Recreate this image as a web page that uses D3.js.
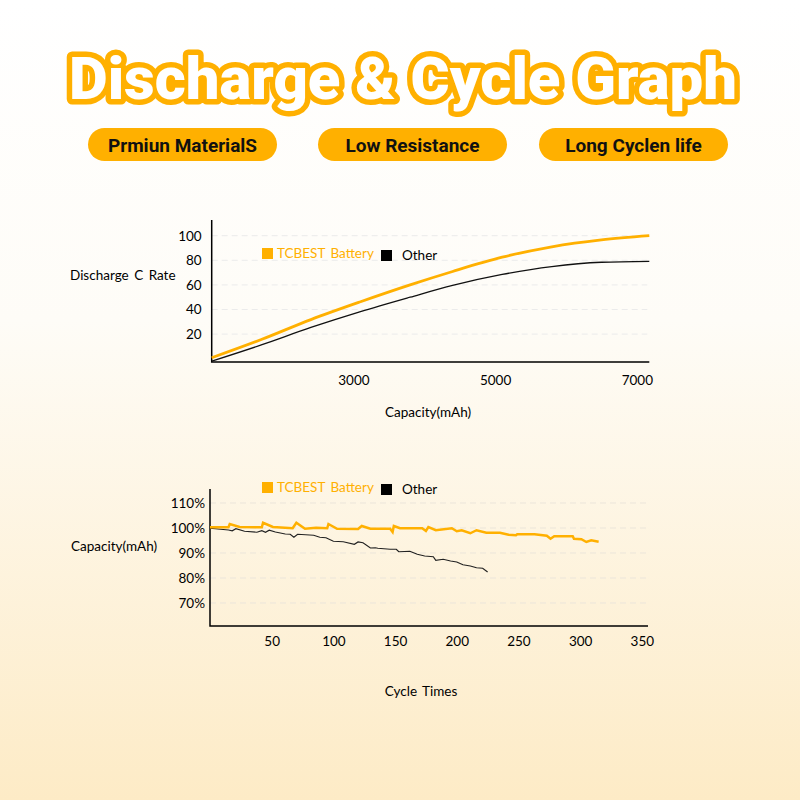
<!DOCTYPE html>
<html lang="en">
<head>
<meta charset="UTF-8">
<title>Discharge & Cycle Graph</title>
<style>
  body { margin: 0; }
  svg { display: block; }
</style>
</head>
<body>
<div id="stage"></div>
<script src="https://d3js.org/d3.v7.min.js"></script>
<script>
// ---- data ----
const features = ["Prmiun MaterialS", "Low Resistance", "Long Cyclen life"];
const seriesNames = ["TCBEST Battery", "Other"];

// discharge chart
const dischargeCap = [1000, 1700, 2400, 3100, 3800, 4400, 5100, 5800, 6500, 7176];
const tcbestRate = [0.8, 15.6, 31.8, 46.3, 60.0, 70.9, 82.5, 91.0, 96.6, 100];
const otherRate = [-2, 11.2, 25.4, 38.3, 50.0, 59.6, 68.5, 74.9, 78.4, 79.2];
const rateTicks = [20, 40, 60, 80, 100];
const capTicks = [3000, 5000, 7000];

// cycle chart
const tcbestCycles = [0, 15, 16, 24, 42, 43, 51, 67, 70, 77, 86, 95, 96, 103, 120, 123, 130, 146, 148, 149,
  154, 172, 175, 177, 183, 196, 200, 204, 211, 216, 224, 235, 242, 248, 249, 263, 273, 276, 279, 294,
  295, 301, 305, 309, 315];
const tcbestCapacity = [100.3, 100.3, 101.6, 100.4, 100.3, 102.1, 100.4, 99.9, 102.1, 99.7, 100.1, 99.9, 101.6, 99.7, 99.6, 100.8, 99.7, 99.7, 98.4, 100.8,
  99.9, 99.9, 98.8, 100.4, 99.1, 99.9, 98.7, 99.1, 97.9, 99.1, 98.1, 98.1, 97.3, 97.1, 97.5, 97.5, 96.9, 95.7, 96.7, 96.7,
  95.7, 95.5, 94.4, 95.1, 94.5];
const otherCycles = [0, 15, 18, 21, 28, 38, 42, 45, 48, 53, 61, 65, 68, 71, 84, 89, 94, 100, 108, 117,
  120, 124, 130, 134, 136, 146, 151, 153, 162, 168, 174, 181, 183, 189, 195, 200, 205, 211, 216, 221, 225];
const otherCapacity = [99.9, 99.2, 98.9, 99.7, 98.7, 98.3, 98.9, 98.3, 99.1, 98.4, 97.6, 97.5, 96.3, 97.5, 97.1, 96.3, 96.1, 94.7, 94.5, 93.5,
  94.4, 94.1, 92.0, 92.1, 91.9, 91.5, 91.5, 90.5, 90.7, 89.5, 88.8, 88.5, 87.1, 87.5, 86.8, 86.4, 85.3, 84.8, 84.1, 83.9, 82.4];
const pctTicks = [70, 80, 90, 100, 110];
const cycleTicks = [50, 100, 150, 200, 250, 300, 350];

const ORANGE = "#ffb000";
const FONT = "Lato, 'Open Sans', sans-serif";

const svg = d3.select("#stage").append("svg")
  .attr("width", 800).attr("height", 800);

// background
const defs = svg.append("defs");
const bg = defs.append("linearGradient").attr("id", "bg")
  .attr("x1", 0).attr("y1", 0).attr("x2", 0).attr("y2", 1);
bg.append("stop").attr("offset", "0%").attr("stop-color", "#ffffff");
bg.append("stop").attr("offset", "40%").attr("stop-color", "#fefcf7");
bg.append("stop").attr("offset", "100%").attr("stop-color", "#fdebc6");
svg.append("rect").attr("width", 800).attr("height", 800).attr("fill", "url(#bg)");

// title
svg.append("text")
  .attr("x", 403).attr("y", 99)
  .attr("text-anchor", "middle")
  .attr("textLength", 668).attr("lengthAdjust", "spacingAndGlyphs")
  .attr("font-family", "Roboto, Inter, sans-serif")
  .attr("font-weight", 900).attr("font-size", 60)
  .attr("fill", "#fff").attr("stroke", ORANGE).attr("stroke-width", 11)
  .attr("stroke-linejoin", "round").attr("paint-order", "stroke")
  .text("Discharge & Cycle Graph");

// feature pills
const pillX = [88, 318, 539];
const pills = svg.selectAll("g.pill").data(features).enter().append("g")
  .attr("class", "pill")
  .attr("transform", (d, i) => `translate(${pillX[i]},128)`);
pills.append("rect").attr("width", 189).attr("height", 33).attr("rx", 16.5).attr("fill", ORANGE);
pills.append("text").attr("x", 94.5).attr("y", 17).attr("dy", "0.35em")
  .attr("text-anchor", "middle")
  .attr("font-family", "Roboto, sans-serif").attr("font-weight", 700).attr("font-size", 19)
  .attr("fill", "#111").text(d => d);

function styleAxis(g) {
  g.select(".domain").remove();
  g.selectAll("text").attr("font-family", FONT).attr("font-size", 13.5).attr("fill", "#000");
}

function legend(y) {
  const lg = svg.append("g");
  lg.append("rect").attr("x", 262).attr("y", y - 10).attr("width", 11).attr("height", 11).attr("fill", ORANGE);
  lg.append("text").attr("x", 277).attr("y", y).attr("font-family", FONT).attr("font-size", 13.5)
    .attr("word-spacing", 2).attr("fill", ORANGE).text(seriesNames[0]);
  lg.append("rect").attr("x", 381).attr("y", y - 8).attr("width", 11).attr("height", 11).attr("fill", "#000");
  lg.append("text").attr("x", 402).attr("y", y + 2).attr("font-family", FONT).attr("font-size", 13.5)
    .attr("fill", "#000").text(seriesNames[1]);
}

// ---- chart 1: discharge ----
{
  const left = 211.7, right = 649.3, top = 220, bottom = 362;
  const x = d3.scaleLinear().domain([1000, 7176]).range([left, right]);
  const y = d3.scaleLinear().domain([0, 100]).range([358.7, 235.7]);

  svg.append("g").selectAll("line").data(rateTicks).enter().append("line")
    .attr("x1", left).attr("x2", right - 2)
    .attr("y1", d => y(d)).attr("y2", d => y(d))
    .attr("stroke", "#ebebeb").attr("stroke-dasharray", "6,4");

  svg.append("g").attr("transform", `translate(${left},0)`)
    .call(d3.axisLeft(y).tickValues(rateTicks).tickSize(0).tickPadding(10))
    .call(styleAxis);
  svg.append("g").attr("transform", `translate(0,${bottom})`)
    .call(d3.axisBottom(x).tickValues(capTicks).tickSize(0).tickPadding(13).tickFormat(d3.format("d")))
    .call(styleAxis);

  svg.append("path").attr("d", `M${left},${top}V${bottom}H${right}`)
    .attr("fill", "none").attr("stroke", "#000").attr("stroke-width", 1.5);

  const line = d3.line().curve(d3.curveMonotoneX);
  svg.append("path")
    .attr("d", line(dischargeCap.map((c, i) => [x(c), y(otherRate[i])])))
    .attr("fill", "none").attr("stroke", "#111").attr("stroke-width", 1.3);
  svg.append("path")
    .attr("d", line(dischargeCap.map((c, i) => [x(c), y(tcbestRate[i])])))
    .attr("fill", "none").attr("stroke", ORANGE).attr("stroke-width", 2.8);

  legend(258);

  svg.append("text").attr("x", 70).attr("y", 280)
    .attr("font-family", FONT).attr("font-size", 13.5).attr("word-spacing", 2).attr("fill", "#000")
    .text("Discharge C Rate");
  svg.append("text").attr("x", 428).attr("y", 417).attr("text-anchor", "middle")
    .attr("font-family", FONT).attr("font-size", 13.5).attr("fill", "#000")
    .text("Capacity(mAh)");
}

// ---- chart 2: cycle ----
{
  const left = 210, right = 648, top = 489, bottom = 626;
  const x = d3.scaleLinear().domain([0, 355]).range([left, right]);
  const y = d3.scaleLinear().domain([60, 100]).range([628, 528]);

  svg.append("g").selectAll("line").data(pctTicks).enter().append("line")
    .attr("x1", left).attr("x2", right - 2)
    .attr("y1", d => y(d)).attr("y2", d => y(d))
    .attr("stroke", "#ebe5da").attr("stroke-dasharray", "6,4");

  svg.append("g").attr("transform", `translate(${left},0)`)
    .call(d3.axisLeft(y).tickValues(pctTicks).tickSize(0).tickPadding(5).tickFormat(d => d + "%"))
    .call(styleAxis);
  svg.append("g").attr("transform", `translate(0,${bottom})`)
    .call(d3.axisBottom(x).tickValues(cycleTicks).tickSize(0).tickPadding(10))
    .call(styleAxis);

  svg.append("path").attr("d", `M${left},${top}V${bottom}H${right}`)
    .attr("fill", "none").attr("stroke", "#000").attr("stroke-width", 1.5);

  const line = d3.line();
  svg.append("path")
    .attr("d", line(otherCycles.map((c, i) => [x(c), y(otherCapacity[i])])))
    .attr("fill", "none").attr("stroke", "#222").attr("stroke-width", 1.2);
  svg.append("path")
    .attr("d", line(tcbestCycles.map((c, i) => [x(c), y(tcbestCapacity[i])])))
    .attr("fill", "none").attr("stroke", ORANGE).attr("stroke-width", 2.5);

  legend(492);

  svg.append("text").attr("x", 71).attr("y", 551)
    .attr("font-family", FONT).attr("font-size", 13.5).attr("fill", "#000")
    .text("Capacity(mAh)");
  svg.append("text").attr("x", 421).attr("y", 696).attr("text-anchor", "middle")
    .attr("font-family", FONT).attr("font-size", 13.5).attr("word-spacing", 2).attr("fill", "#000")
    .text("Cycle Times");
}
</script>
</body>
</html>
